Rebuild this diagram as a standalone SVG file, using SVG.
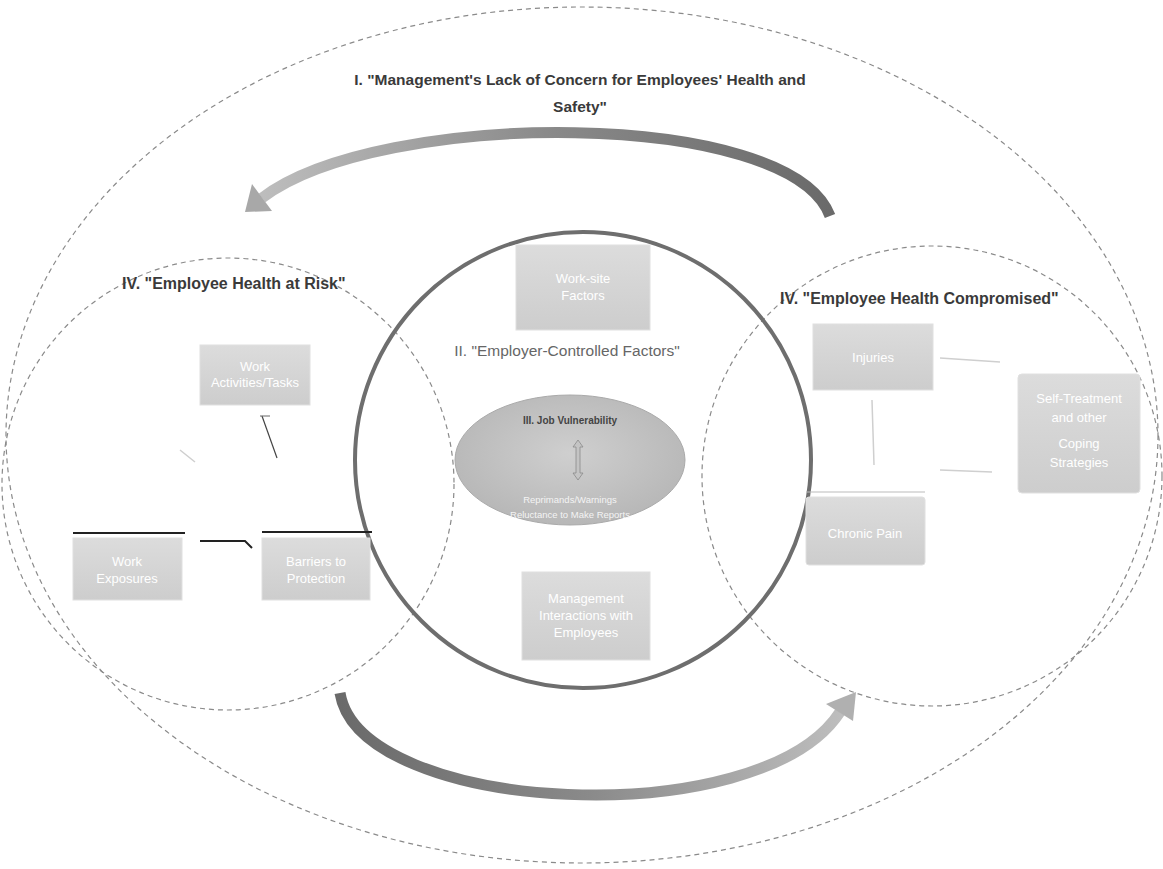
<svg xmlns="http://www.w3.org/2000/svg" width="1163" height="869" viewBox="0 0 1163 869">
<defs>
<style>
.dash{fill:none;stroke:#8a8a8a;stroke-width:1.2;stroke-dasharray:5 4}
.box{fill:url(#boxg);stroke:#e0e0e0;stroke-width:1}
.bt{font-family:"Liberation Sans",Arial,sans-serif;font-size:13px;fill:#ffffff;text-anchor:middle}
.hd{font-family:"Liberation Sans",Arial,sans-serif;font-weight:bold;fill:#3a3a3a}
.conn{fill:none;stroke:#cfcfcf;stroke-width:1.5}
</style>
<linearGradient id="boxg" x1="0" y1="0" x2="0" y2="1">
<stop offset="0" stop-color="#dcdcdc"/>
<stop offset="1" stop-color="#cdcdcd"/>
</linearGradient>
<radialGradient id="ellg" cx="0.5" cy="0.45" r="0.6">
<stop offset="0" stop-color="#cfcfcf"/>
<stop offset="1" stop-color="#b5b5b5"/>
</radialGradient>
<linearGradient id="arrT" x1="0" y1="0" x2="1" y2="0">
<stop offset="0" stop-color="#bdbdbd"/>
<stop offset="0.5" stop-color="#8a8a8a"/>
<stop offset="1" stop-color="#6a6a6a"/>
</linearGradient>
<linearGradient id="arrB" x1="0" y1="0" x2="1" y2="0">
<stop offset="0" stop-color="#6a6a6a"/>
<stop offset="0.5" stop-color="#8a8a8a"/>
<stop offset="1" stop-color="#bdbdbd"/>
</linearGradient>
</defs>
<rect width="1163" height="869" fill="#ffffff"/>

<g id="outer">
<ellipse cx="582" cy="435" rx="576" ry="428" class="dash"/>
<text class="hd" x="580" y="85" font-size="15.5" text-anchor="middle">I. "Management's Lack of Concern for Employees' Health and</text>
<text class="hd" x="580" y="112" font-size="15.5" text-anchor="middle">Safety"</text>
</g>

<g id="cycle-arrows">
<path d="M 830 216 C 790 108 380 108 262 198" fill="none" stroke="url(#arrT)" stroke-width="11"/>
<polygon points="245,212 272,211 252,184" fill="#a8a8a8"/>
<path d="M 340 693 C 360 815 760 835 840 712" fill="none" stroke="url(#arrB)" stroke-width="11"/>
<polygon points="856,692 853,721 826,704" fill="#b0b0b0"/>
</g>

<g id="risk-circle">
<circle cx="228" cy="484" r="226" class="dash"/>
<text class="hd" x="122" y="289" font-size="16">IV.  "Employee Health at Risk"</text>
</g>

<g id="compromised-circle">
<circle cx="932" cy="476" r="230" class="dash"/>
<text class="hd" x="780" y="304" font-size="16">IV.  "Employee Health Compromised"</text>
</g>

<g id="employer-circle">
<circle cx="583" cy="460" r="228" fill="none" stroke="#6e6e6e" stroke-width="4"/>
<text x="567" y="356" font-family="Liberation Sans,Arial,sans-serif" font-size="15.5" fill="#666666" text-anchor="middle">II. "Employer-Controlled Factors"</text>
</g>

<g id="job-vulnerability">
<ellipse cx="570" cy="460" rx="115" ry="65" fill="url(#ellg)" stroke="#aaa" stroke-width="1"/>
<text x="570" y="424" font-family="Liberation Sans,Arial,sans-serif" font-size="10" font-weight="bold" fill="#444" text-anchor="middle">III. Job Vulnerability</text>
<path d="M 578 440 L 583 447 L 580 447 L 580 473 L 583 473 L 578 480 L 573 473 L 576 473 L 576 447 L 573 447 Z" fill="#c4c4c4" stroke="#8a8a8a" stroke-width="0.8"/>
<text x="570" y="503" font-family="Liberation Sans,Arial,sans-serif" font-size="9.5" fill="#f4f4f4" text-anchor="middle">Reprimands/Warnings</text>
<text x="570" y="518" font-family="Liberation Sans,Arial,sans-serif" font-size="9.5" fill="#f4f4f4" text-anchor="middle">Reluctance to Make Reports</text>
</g>

<g id="worksite-factors">
<rect x="516" y="245" width="134" height="85" class="box"/>
<text class="bt" x="583" y="283">Work-site</text>
<text class="bt" x="583" y="300">Factors</text>
</g>

<g id="management-interactions">
<rect x="522" y="572" width="128" height="88" class="box"/>
<text class="bt" x="586" y="603">Management</text>
<text class="bt" x="586" y="620">Interactions with</text>
<text class="bt" x="586" y="637">Employees</text>
</g>

<g id="work-activities">
<rect x="200" y="345" width="110" height="60" class="box"/>
<text class="bt" x="255" y="371">Work</text>
<text class="bt" x="255" y="387">Activities/Tasks</text>
</g>

<g id="work-exposures">
<line x1="73" y1="533" x2="185" y2="533" stroke="#222" stroke-width="2"/>
<rect x="73" y="538" width="109" height="62" class="box"/>
<text class="bt" x="127" y="566">Work</text>
<text class="bt" x="127" y="583">Exposures</text>
</g>

<g id="barriers">
<line x1="262" y1="532" x2="372" y2="532" stroke="#222" stroke-width="2"/>
<rect x="262" y="538" width="108" height="62" class="box"/>
<text class="bt" x="316" y="566">Barriers to</text>
<text class="bt" x="316" y="583">Protection</text>
</g>

<g id="injuries">
<rect x="813" y="324" width="120" height="66" class="box"/>
<text class="bt" x="873" y="362">Injuries</text>
</g>

<g id="self-treatment">
<rect x="1018" y="374" width="122" height="119" class="box" rx="4"/>
<text class="bt" x="1079" y="403" font-size="14">Self-Treatment</text>
<text class="bt" x="1079" y="422" font-size="14">and other</text>
<text class="bt" x="1079" y="448" font-size="14">Coping</text>
<text class="bt" x="1079" y="467" font-size="14">Strategies</text>
</g>

<g id="chronic-pain">
<line x1="806" y1="492" x2="925" y2="492" stroke="#bbb" stroke-width="1"/>
<rect x="806" y="497" width="119" height="68" class="box" rx="3"/>
<text class="bt" x="865" y="538" font-size="17">Chronic Pain</text>
</g>

<g id="connectors">
<path d="M 200 541 L 245 541 L 252 548" fill="none" stroke="#222" stroke-width="2"/>
<line x1="262" y1="416" x2="277" y2="458" stroke="#444" stroke-width="1.2"/>
<line x1="260" y1="416" x2="270" y2="416" stroke="#666" stroke-width="1"/>
<line x1="180" y1="450" x2="195" y2="462" class="conn"/>
<line x1="940" y1="358" x2="1000" y2="362" class="conn"/>
<line x1="872" y1="400" x2="874" y2="465" class="conn"/>
<line x1="940" y1="470" x2="992" y2="472" class="conn"/>
</g>
</svg>
